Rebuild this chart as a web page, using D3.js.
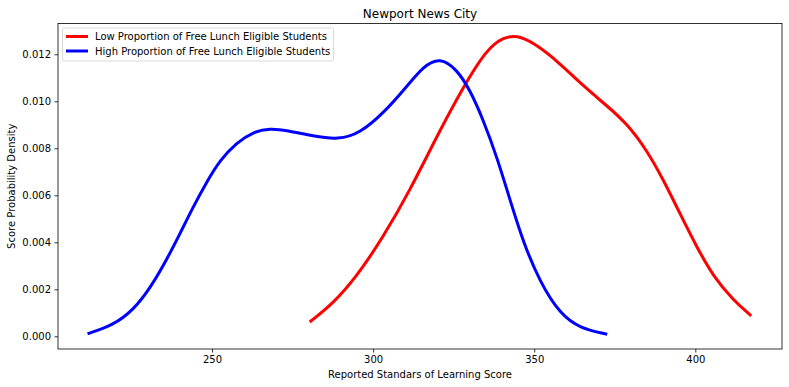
<!DOCTYPE html>
<html>
<head>
<meta charset="utf-8">
<script src="https://cdn.jsdelivr.net/npm/d3@7"></script>
<style>
body { margin: 0; background: #fff; }
svg { display: block; font-family: "DejaVu Sans", sans-serif; }
</style>
</head>
<body>
<svg id="chart" width="789" height="387"></svg>
<script>
const title = "Newport News City";
const xLabel = "Reported Standars of Learning Score";
const yLabel = "Score Probability Density";
const seriesNames = ["Low Proportion of Free Lunch Eligible Students", "High Proportion of Free Lunch Eligible Students"];
const seriesColors = ["#ff0000", "#0000ff"];

const lowScores  = [280.7, 287.6, 294.9, 303.2, 311.5, 319.7, 328.0, 335.3, 340.4, 344.6, 349.7, 358.0, 365.2, 372.5, 378.7, 384.9, 390.1, 395.2, 400.4, 405.6, 411.8, 417.0];
const lowDensity = [0.00065, 0.0014, 0.00254, 0.00424, 0.00623, 0.00849, 0.01062, 0.01222, 0.01272, 0.01281, 0.01251, 0.01162, 0.01065, 0.00982, 0.00906, 0.00793, 0.00665, 0.00523, 0.00381, 0.00254, 0.00154, 0.00091];

const highScores  = [211.8, 219.4, 225.6, 230.8, 235.9, 240.1, 244.2, 248.4, 252.5, 257.7, 262.8, 268.0, 273.2, 281.4, 289.2, 295.9, 303.2, 310.4, 315.6, 320.8, 325.9, 330.1, 334.2, 338.4, 342.5, 346.6, 351.8, 358.0, 364.2, 372.2];
const highDensity = [0.000128, 0.00048, 0.00112, 0.00205, 0.00325, 0.00438, 0.00552, 0.00658, 0.0075, 0.00825, 0.00870, 0.00885, 0.00876, 0.00852, 0.00836, 0.00864, 0.00949, 0.01062, 0.01150, 0.01187, 0.01137, 0.01048, 0.0092, 0.00764, 0.0058, 0.0040, 0.00230, 0.00095, 0.00034, 0.0001];

const xTicks = [250, 300, 350, 400];
const yTicks = [0, 0.002, 0.004, 0.006, 0.008, 0.010, 0.012];

const svg = d3.select("#chart");
const mLeft = 58, mRight = 782, mTop = 23.5, mBottom = 349;

const x = d3.scaleLinear().domain([202.2, 426.9]).range([mLeft, mRight]);
const y = d3.scaleLinear().domain([-0.00054, 0.01331]).range([mBottom, mTop]);

const line = d3.line().x(d => x(d[0])).y(d => y(d[1])).curve(d3.curveBasis);

const series = [
  d3.zip(lowScores, lowDensity),
  d3.zip(highScores, highDensity)
];

const plot = svg.append("g");
series.forEach((s, i) => {
  plot.append("path").datum(s)
    .attr("d", line)
    .attr("fill", "none")
    .attr("stroke", seriesColors[i])
    .attr("stroke-width", 3)
    .attr("stroke-linecap", "square");
});

// axes
const xAxis = svg.append("g").attr("transform", `translate(0,${mBottom})`)
  .call(d3.axisBottom(x).tickValues(xTicks).tickSize(3.5).tickPadding(3.5).tickFormat(d3.format("d")));
const yAxis = svg.append("g").attr("transform", `translate(${mLeft},0)`)
  .call(d3.axisLeft(y).tickValues(yTicks).tickSize(3.5).tickPadding(3.5).tickFormat(d3.format(".3f")));
[xAxis, yAxis].forEach(a => {
  a.select(".domain").remove();
  a.selectAll(".tick line").attr("stroke", "#000").attr("stroke-width", 0.8);
  a.selectAll(".tick text").attr("fill", "#000").style("font-size", "10px").style("font-family", "DejaVu Sans");
});

// frame
svg.append("rect").attr("x", mLeft).attr("y", mTop).attr("width", mRight - mLeft).attr("height", mBottom - mTop)
  .attr("fill", "none").attr("stroke", "#000").attr("stroke-width", 0.8);

// title & labels
svg.append("text").attr("x", (mLeft + mRight) / 2).attr("y", 17.5).attr("text-anchor", "middle")
  .style("font-size", "12px").attr("fill", "#000").text(title);
svg.append("text").attr("x", (mLeft + mRight) / 2).attr("y", 378).attr("text-anchor", "middle")
  .style("font-size", "10px").attr("fill", "#000").text(xLabel);
svg.append("text").attr("transform", `translate(15,${(mTop + mBottom) / 2}) rotate(-90)`).attr("text-anchor", "middle")
  .style("font-size", "10px").attr("fill", "#000").text(yLabel);

// legend
const lg = svg.append("g");
lg.append("rect").attr("x", 62.5).attr("y", 28).attr("width", 271).attr("height", 33).attr("rx", 2)
  .attr("fill", "#fff").attr("fill-opacity", 0.8).attr("stroke", "#d9d9d9").attr("stroke-width", 1);
seriesNames.forEach((n, i) => {
  const yy = 36.5 + i * 14.5;
  lg.append("line").attr("x1", 66).attr("x2", 88).attr("y1", yy).attr("y2", yy)
    .attr("stroke", seriesColors[i]).attr("stroke-width", 3);
  lg.append("text").attr("x", 95).attr("y", yy + 3.5).style("font-size", "10px").attr("fill", "#000").text(n);
});
</script>
</body>
</html>
